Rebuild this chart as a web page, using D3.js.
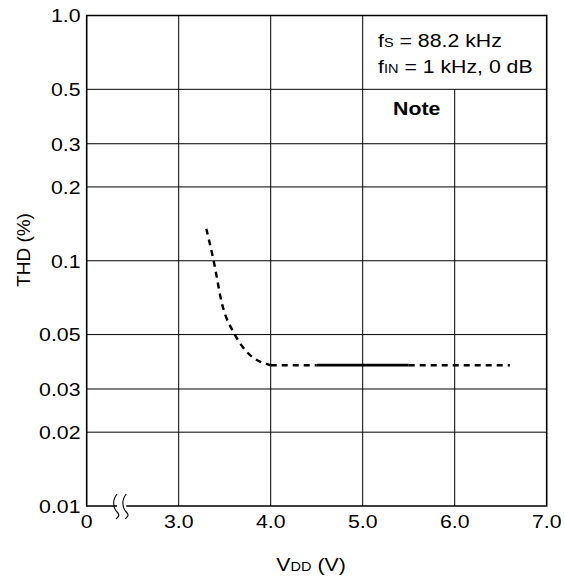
<!DOCTYPE html>
<html>
<head>
<meta charset="utf-8">
<script src="https://cdn.jsdelivr.net/npm/d3@7"></script>
<style>
	body { margin: 0; background: #fff; }
	text { font-family: "Liberation Sans", Arial, sans-serif; fill: #000; }
</style>
</head>
<body>
<div id="chart"></div>
<script>
// axis values
const xTicks = [2, 3, 4, 5, 6, 7];
const xTickLabels = ["0", "3.0", "4.0", "5.0", "6.0", "7.0"];
const yTicks = [0.01, 0.02, 0.03, 0.05, 0.1, 0.2, 0.3, 0.5, 1.0];
const yTickLabels = ["0.01", "0.02", "0.03", "0.05", "0.1", "0.2", "0.3", "0.5", "1.0"];

// THD curve (dashed part at low supply)
const curveVdd = [3.3, 3.38, 3.47, 3.61, 3.74, 3.87, 4.0];
const curveThd = [0.135, 0.1, 0.067, 0.05, 0.0425, 0.039, 0.0375];
// flat part: dashed, solid (guaranteed range), dashed
const flatDash1 = [4.0, 4.5];
const flatSolid = [4.5, 5.5];
const flatDash2 = [5.5, 6.6];
const flatThd = 0.0375;

const width = 565, height = 578;
const plotLeft = 86.7, plotRight = 546.7, plotTop = 15.5, plotBottom = 506;
const fontSize = 19, stretch = 1.12; // source lettering is a bit wide

const svg = d3
	.select("#chart")
	.append("svg")
	.attr("width", width)
	.attr("height", height);

const x = d3.scaleLinear().domain([2, 7]).range([plotLeft, plotRight]);
const y = d3.scaleLog().domain([0.01, 1]).range([plotBottom, plotTop]);

// place a text at (tx, ty) with the horizontal stretch
const place = (tx, ty) => `translate(${tx},${ty}) scale(${stretch},1)`;

// horizontal grid
svg.append("g")
	.selectAll()
	.data(yTicks.slice(1, -1))
	.join("line")
	.attr("x1", plotLeft)
	.attr("x2", plotRight)
	.attr("y1", (d) => y(d))
	.attr("y2", (d) => y(d))
	.attr("stroke", "#000")
	.attr("stroke-width", 1);

// vertical grid, the 6.0 line stops under the condition box
svg.append("g")
	.selectAll()
	.data(xTicks.slice(1, -1))
	.join("line")
	.attr("x1", (d) => x(d))
	.attr("x2", (d) => x(d))
	.attr("y1", (d) => (d === 6 ? y(0.5) : plotTop))
	.attr("y2", plotBottom)
	.attr("stroke", "#000")
	.attr("stroke-width", 1);

// frame, bottom edge broken near the origin
const frame = svg.append("g").attr("stroke", "#000").attr("stroke-width", 1.6).attr("fill", "none");
frame.append("path")
	.attr("d", `M${x(2.33)},${plotBottom}H${plotLeft}V${plotTop}H${plotRight}V${plotBottom}H${x(2.43)}`);

// break marks
const brk = (cx) => `M${cx},${plotBottom - 12} C${cx - 5},${plotBottom - 6} ${cx - 4},${plotBottom + 2} ${cx},${plotBottom + 6} S${cx},${plotBottom + 11} ${cx - 1},${plotBottom + 13}`;
frame.append("path").attr("d", brk(x(2.33))).attr("stroke-width", 1.1);
frame.append("path").attr("d", brk(x(2.43))).attr("stroke-width", 1.1);

// tick labels
svg.append("g")
	.selectAll()
	.data(yTicks)
	.join("text")
	.attr("transform", (d) => place(80.5, y(d)))
	.attr("dy", "0.36em")
	.attr("text-anchor", "end")
	.attr("font-size", fontSize)
	.text((d, i) => yTickLabels[i]);

svg.append("g")
	.selectAll()
	.data(xTicks)
	.join("text")
	.attr("transform", (d) => place(x(d), 528))
	.attr("text-anchor", "middle")
	.attr("font-size", fontSize)
	.text((d, i) => xTickLabels[i]);

// axis titles
const xt = svg.append("text")
	.attr("transform", place(311, 571))
	.attr("text-anchor", "middle")
	.attr("font-size", fontSize);
xt.append("tspan").text("V");
xt.append("tspan").attr("font-size", 13).text("DD");
xt.append("tspan").text(" (V)");

svg.append("text")
	.attr("transform", "translate(30,250) rotate(-90)")
	.attr("text-anchor", "middle")
	.attr("font-size", fontSize)
	.text("THD (%)");

// curve
const line = d3.line()
	.x((d) => x(d[0]))
	.y((d) => y(d[1]))
	.curve(d3.curveMonotoneX);

const lines = svg.append("g").attr("fill", "none").attr("stroke", "#000").attr("stroke-width", 2.4);
lines.append("path")
	.attr("d", line(curveVdd.map((v, i) => [v, curveThd[i]])))
	.attr("stroke-dasharray", "6,5");
lines.append("path")
	.attr("d", line(flatDash1.map((v) => [v, flatThd])))
	.attr("stroke-dasharray", "6,5");
lines.append("path")
	.attr("d", line(flatSolid.map((v) => [v, flatThd])))
	.attr("stroke-width", 2.8);
lines.append("path")
	.attr("d", line(flatDash2.map((v) => [v, flatThd])))
	.attr("stroke-dasharray", "6,5");

// condition box text
const t1 = svg.append("text").attr("transform", place(378, 47)).attr("font-size", fontSize);
t1.append("tspan").text("f");
t1.append("tspan").attr("font-size", 13).text("S");
t1.append("tspan").text(" = 88.2 kHz");
const t2 = svg.append("text").attr("transform", place(378, 73)).attr("font-size", fontSize);
t2.append("tspan").text("f");
t2.append("tspan").attr("font-size", 13).text("IN");
t2.append("tspan").text(" = 1 kHz, 0 dB");

svg.append("text")
	.attr("transform", place(416.7, 115))
	.attr("text-anchor", "middle")
	.attr("font-size", fontSize)
	.attr("font-weight", "bold")
	.text("Note");
</script>
</body>
</html>
